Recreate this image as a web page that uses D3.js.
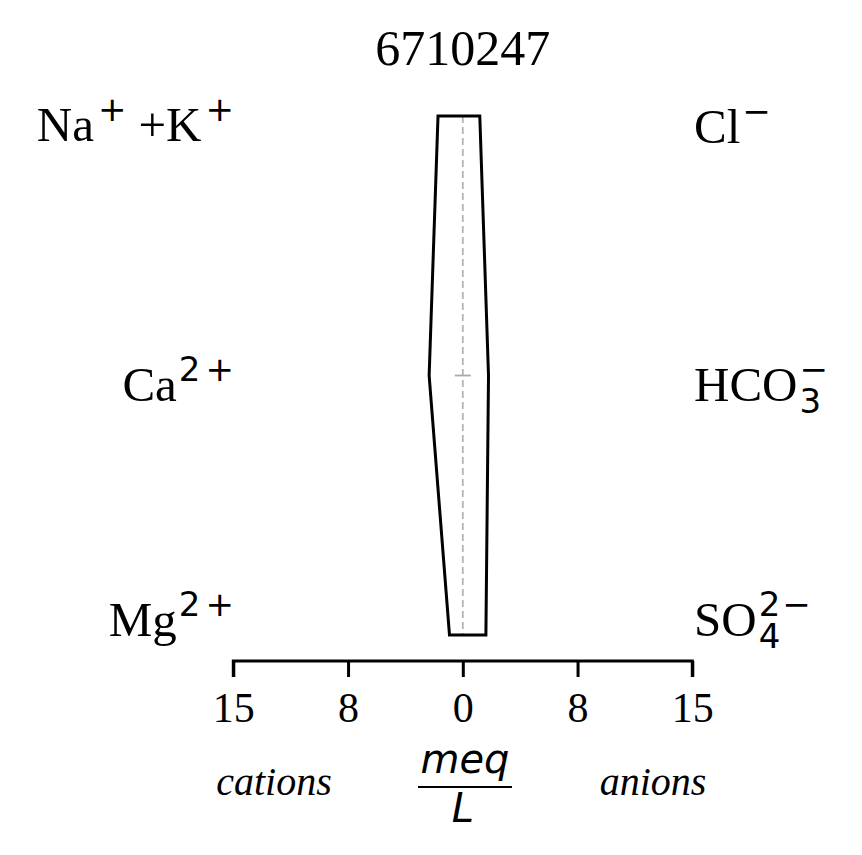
<!DOCTYPE html>
<html><head><meta charset="utf-8">
<script src="https://cdn.jsdelivr.net/npm/d3@7"></script>
<style>body{margin:0;background:#fff}</style>
</head><body>
<svg id="c" width="862" height="855"></svg>
<script>
const title = "6710247";
const cationNames = ["Na+K", "Ca", "Mg"];
const anionNames = ["Cl", "HCO3", "SO4"];
const cationValues = [1.62, 2.20, 0.87];   // meq/L
const anionValues = [1.11, 1.68, 1.51];    // meq/L
const tickValues = [-15, -7.5, 0, 7.5, 15];
// label pieces: [text, style]  n=normal serif, p=superscript, b=subscript, s=sup stacked over next sub
const cationLabels = [
  [["Na","n"],["+","p"],["+K","n"],["+","p"]],
  [["Ca","n"],["2","p"],["+","p"]],
  [["Mg","n"],["2","p"],["+","p"]]
];
const anionLabels = [
  [["Cl","n"],["−","p"]],
  [["HCO","n"],["−","s"],["3","b"]],
  [["SO","n"],["2","s"],["4","b"],["−","p"]]
];

const svg = d3.select("#c");
const x = d3.scaleLinear().domain([-15, 15]).range([233.3, 692.3]);
const y = d3.scalePoint().domain(d3.range(3)).range([116, 635]);
const SERIF = "'Liberation Serif', 'Times New Roman', Times, serif";
const SANS = "'DejaVu Sans', sans-serif";
const base = 49, small = 34;

// title
svg.append("text").attr("x", x(0)).attr("y", 65).attr("text-anchor", "middle")
  .style("font-family", SERIF).style("font-size", "50px").text(title);

// center dashed line
svg.append("line").attr("x1", x(0)).attr("x2", x(0)).attr("y1", y(0)).attr("y2", y(2))
  .attr("stroke", "#b5b5b5").attr("stroke-width", 1.8).attr("stroke-dasharray", "7,4");
svg.append("line").attr("x1", x(0) - 8).attr("x2", x(0) + 8).attr("y1", y(1)).attr("y2", y(1))
  .attr("stroke", "#aaaaaa").attr("stroke-width", 1.8);

// polygon
const pts = [];
cationValues.forEach((v, i) => pts.push([x(-v), y(i)]));
for (let i = anionValues.length - 1; i >= 0; i--) pts.push([x(anionValues[i]), y(i)]);
svg.append("path").attr("d", d3.line()(pts) + "Z")
  .attr("fill", "none").attr("stroke", "#000").attr("stroke-width", 3).attr("stroke-linejoin", "miter");

// axis
const axis = d3.axisBottom(x).tickValues(tickValues).tickSize(16).tickPadding(4)
  .tickFormat(d => String(Math.round(Math.abs(d))));
const ag = svg.append("g").attr("transform", "translate(0,661)").call(axis);
ag.select(".domain").attr("stroke", "#000").attr("stroke-width", 3).attr("d", `M${x(-15)},16V0H${x(15)}V16`);
ag.selectAll(".tick line").attr("stroke", "#000").attr("stroke-width", 3);
ag.selectAll(".tick text").style("font-family", SERIF).style("font-size", "42px").attr("fill", "#000")
  .attr("dy", null).attr("y", 61);

// labels
function drawLabel(parts, x0, baseline, anchor) {
  const g = svg.append("g");
  let cur = 0, stackStart = null, stackW = 0;
  parts.forEach(([t, st], k) => {
    const isBase = st === "n";
    const el = g.append("text")
      .style("font-family", isBase ? SERIF : SANS)
      .style("font-size", (isBase ? base : small) + "px")
      .text(t);
    let dy = 0, gap = 0;
    if (st === "p" || st === "s") { dy = -20; gap = 2; }
    if (st === "b") { dy = 12; }
    let xx;
    if (st === "b" && stackStart !== null) xx = stackStart;
    else xx = cur + gap;
    if (st === "p" && t === "+" && k > 0 && parts[k - 1][1] === "p") xx += 3;
    if (st === "p" && t === "+" && k > 0 && parts[k - 1][1] === "n") xx += 2;
    if (st === "n" && k > 0) xx += 12;
    el.attr("x", xx).attr("y", dy);
    const w = el.node().getComputedTextLength();
    if (st === "s") { stackStart = xx; stackW = w; }
    else if (st === "b" && stackStart !== null) { cur = stackStart + Math.max(w, stackW); stackStart = null; }
    else cur = xx + w;
  });
  const tx = anchor === "end" ? x0 - cur : x0;
  g.attr("transform", `translate(${tx},${baseline})`);
}
const leftBase = [141, 401, 636], rightBase = [143, 401, 636];
cationLabels.forEach((p, i) => drawLabel(p, 234, leftBase[i], "end"));
anionLabels.forEach((p, i) => drawLabel(p, 694, rightBase[i], "start"));

// x labels
svg.append("text").attr("x", 274).attr("y", 795).attr("text-anchor", "middle")
  .style("font-family", SERIF).style("font-style", "italic").style("font-size", "40px").text("cations");
svg.append("text").attr("x", 653).attr("y", 795).attr("text-anchor", "middle")
  .style("font-family", SERIF).style("font-style", "italic").style("font-size", "40px").text("anions");
svg.append("text").attr("x", 465).attr("y", 773).attr("text-anchor", "middle")
  .style("font-family", SANS).style("font-style", "italic").style("font-size", "40px").text("meq");
svg.append("line").attr("x1", 418).attr("x2", 512).attr("y1", 787).attr("y2", 787)
  .attr("stroke", "#000").attr("stroke-width", 2);
svg.append("text").attr("x", 463).attr("y", 822).attr("text-anchor", "middle")
  .style("font-family", SANS).style("font-style", "italic").style("font-size", "40px").text("L");
</script>
</body></html>
